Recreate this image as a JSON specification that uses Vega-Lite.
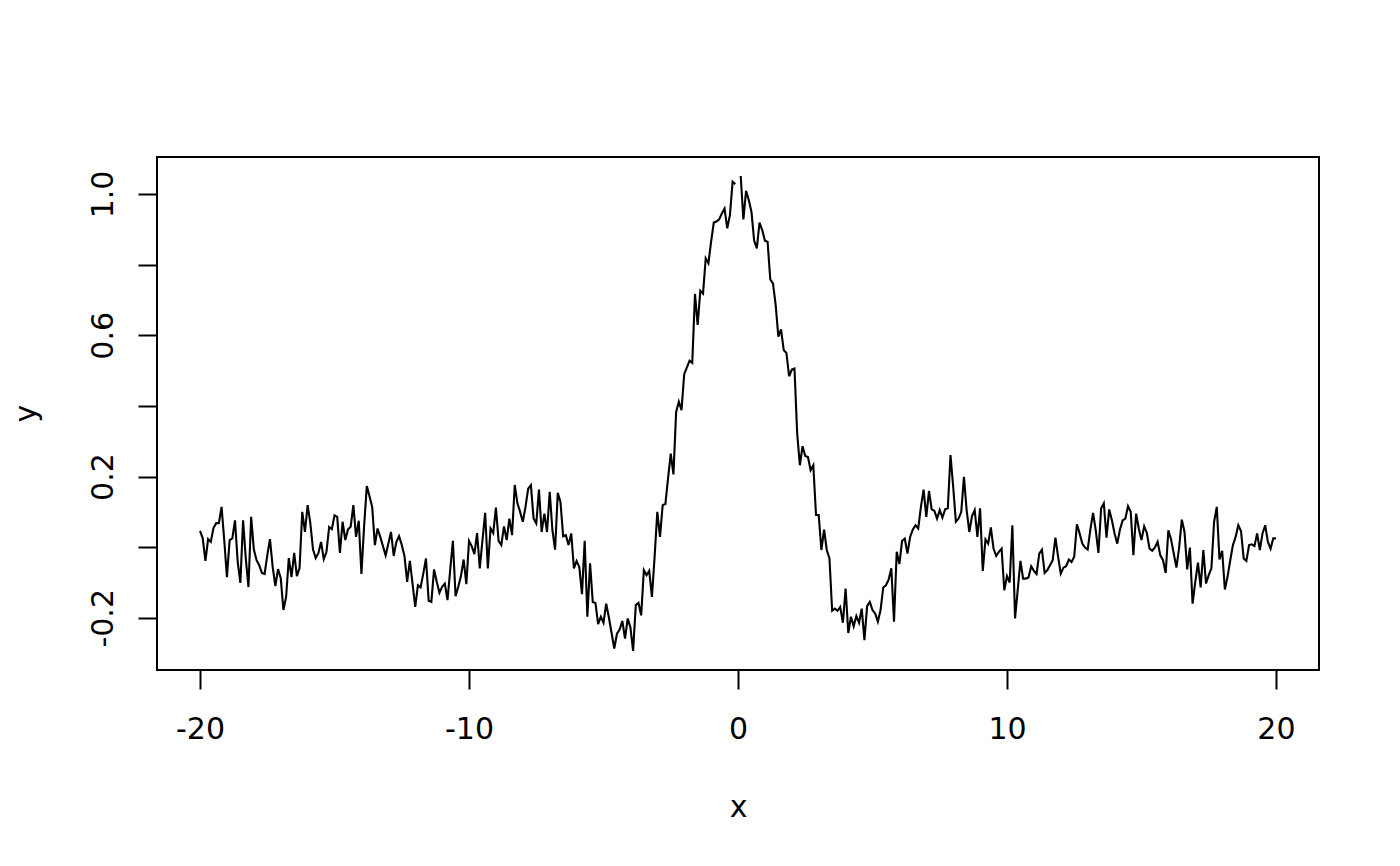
{
  "$schema": "https://vega.github.io/schema/vega-lite/v6.json",
  "autosize": "none",
  "width": 1162,
  "height": 513,
  "padding": {"left": 157, "top": 157, "right": 81, "bottom": 196},
  "background": "white",
  "config": {
    "view": {"stroke": "black", "strokeWidth": 2},
    "axis": {
      "domain": false,
      "grid": false,
      "tickColor": "black",
      "tickSize": 19,
      "tickWidth": 2,
      "labelFont": "DejaVu Sans",
      "labelFontSize": 30,
      "labelColor": "black",
      "titleFont": "DejaVu Sans",
      "titleFontSize": 30,
      "titleFontWeight": "normal",
      "titleColor": "black",
      "labelOverlap": false
    }
  },
  "data": {"values": [
    {"x": -20, "y": 0.046}, {"x": -19.9, "y": 0.025}, {"x": -19.8, "y": -0.039}, {"x": -19.7, "y": 0.023}, {"x": -19.6, "y": 0.015},
    {"x": -19.5, "y": 0.054}, {"x": -19.4, "y": 0.068}, {"x": -19.3, "y": 0.068}, {"x": -19.2, "y": 0.114}, {"x": -19.1, "y": 0.02},
    {"x": -19, "y": -0.085}, {"x": -18.9, "y": 0.02}, {"x": -18.8, "y": 0.025}, {"x": -18.7, "y": 0.076}, {"x": -18.6, "y": -0.042},
    {"x": -18.5, "y": -0.101}, {"x": -18.4, "y": 0.076}, {"x": -18.3, "y": -0.031}, {"x": -18.2, "y": -0.113}, {"x": -18.1, "y": 0.086},
    {"x": -18, "y": -0.006}, {"x": -17.9, "y": -0.037}, {"x": -17.8, "y": -0.051}, {"x": -17.7, "y": -0.073}, {"x": -17.6, "y": -0.076},
    {"x": -17.5, "y": -0.023}, {"x": -17.4, "y": 0.023}, {"x": -17.3, "y": -0.056}, {"x": -17.2, "y": -0.11}, {"x": -17.1, "y": -0.062},
    {"x": -17, "y": -0.088}, {"x": -16.9, "y": -0.178}, {"x": -16.8, "y": -0.141}, {"x": -16.7, "y": -0.031}, {"x": -16.6, "y": -0.085},
    {"x": -16.5, "y": -0.016}, {"x": -16.4, "y": -0.082}, {"x": -16.3, "y": -0.059}, {"x": -16.2, "y": 0.1}, {"x": -16.1, "y": 0.043},
    {"x": -16, "y": 0.119}, {"x": -15.9, "y": 0.068}, {"x": -15.8, "y": -0.006}, {"x": -15.7, "y": -0.031}, {"x": -15.6, "y": -0.017},
    {"x": -15.5, "y": 0.015}, {"x": -15.4, "y": -0.034}, {"x": -15.3, "y": -0.014}, {"x": -15.2, "y": 0.057}, {"x": -15.1, "y": 0.051},
    {"x": -15, "y": 0.09},
    {"x": -14.9, "y": 0.086}, {"x": -14.8, "y": -0.016}, {"x": -14.7, "y": 0.072}, {"x": -14.6, "y": 0.02}, {"x": -14.5, "y": 0.05},
    {"x": -14.4, "y": 0.058}, {"x": -14.3, "y": 0.119}, {"x": -14.2, "y": 0.029}, {"x": -14.1, "y": 0.075}, {"x": -14, "y": -0.076},
    {"x": -13.9, "y": 0.06}, {"x": -13.8, "y": 0.173}, {"x": -13.7, "y": 0.144}, {"x": -13.6, "y": 0.114}, {"x": -13.5, "y": 0.006},
    {"x": -13.4, "y": 0.053}, {"x": -13.3, "y": 0.029}, {"x": -13.2, "y": 0.003}, {"x": -13.1, "y": -0.023}, {"x": -13, "y": 0.01},
    {"x": -12.9, "y": 0.043}, {"x": -12.8, "y": -0.025}, {"x": -12.7, "y": 0.015}, {"x": -12.6, "y": 0.031}, {"x": -12.5, "y": 0.006},
    {"x": -12.4, "y": -0.025}, {"x": -12.3, "y": -0.098}, {"x": -12.2, "y": -0.039}, {"x": -12.1, "y": -0.103}, {"x": -12, "y": -0.169},
    {"x": -11.9, "y": -0.108}, {"x": -11.8, "y": -0.114}, {"x": -11.7, "y": -0.075}, {"x": -11.6, "y": -0.032}, {"x": -11.5, "y": -0.152},
    {"x": -11.4, "y": -0.155}, {"x": -11.3, "y": -0.063}, {"x": -11.2, "y": -0.098}, {"x": -11.1, "y": -0.129}, {"x": -11, "y": -0.112},
    {"x": -10.9, "y": -0.103}, {"x": -10.8, "y": -0.15}, {"x": -10.7, "y": -0.065}, {"x": -10.6, "y": 0.018}, {"x": -10.5, "y": -0.139},
    {"x": -10.4, "y": -0.112}, {"x": -10.3, "y": -0.082}, {"x": -10.2, "y": -0.035}, {"x": -10.1, "y": -0.105}, {"x": -10, "y": 0.018},
    {"x": -9.9, "y": 0.003}, {"x": -9.8, "y": -0.02}, {"x": -9.7, "y": 0.04}, {"x": -9.6, "y": -0.06}, {"x": -9.5, "y": 0.02},
    {"x": -9.4, "y": 0.097}, {"x": -9.3, "y": -0.06}, {"x": -9.2, "y": 0.053}, {"x": -9.1, "y": 0.04}, {"x": -9, "y": 0.112},
    {"x": -8.9, "y": 0.018}, {"x": -8.8, "y": 0.006}, {"x": -8.7, "y": 0.059}, {"x": -8.6, "y": 0.02}, {"x": -8.5, "y": 0.081},
    {"x": -8.4, "y": 0.034}, {"x": -8.3, "y": 0.176}, {"x": -8.2, "y": 0.124}, {"x": -8.1, "y": 0.1}, {"x": -8, "y": 0.072},
    {"x": -7.9, "y": 0.114}, {"x": -7.8, "y": 0.166}, {"x": -7.7, "y": 0.176}, {"x": -7.6, "y": 0.081}, {"x": -7.5, "y": 0.067},
    {"x": -7.4, "y": 0.163}, {"x": -7.3, "y": 0.043}, {"x": -7.2, "y": 0.095}, {"x": -7.1, "y": 0.043}, {"x": -7, "y": 0.157},
    {"x": -6.9, "y": 0.048}, {"x": -6.8, "y": -0.007}, {"x": -6.7, "y": 0.154}, {"x": -6.6, "y": 0.128}, {"x": -6.5, "y": 0.031},
    {"x": -6.4, "y": 0.034}, {"x": -6.3, "y": 0.006}, {"x": -6.2, "y": 0.039}, {"x": -6.1, "y": -0.06}, {"x": -6, "y": -0.039},
    {"x": -5.9, "y": -0.056}, {"x": -5.8, "y": -0.133}, {"x": -5.7, "y": 0.018}, {"x": -5.6, "y": -0.197}, {"x": -5.5, "y": -0.046},
    {"x": -5.4, "y": -0.155}, {"x": -5.3, "y": -0.158}, {"x": -5.2, "y": -0.218}, {"x": -5.1, "y": -0.197}, {"x": -5, "y": -0.214},
    {"x": -4.9, "y": -0.16}, {"x": -4.8, "y": -0.199}, {"x": -4.7, "y": -0.243}, {"x": -4.6, "y": -0.287}, {"x": -4.5, "y": -0.245},
    {"x": -4.4, "y": -0.233}, {"x": -4.3, "y": -0.209}, {"x": -4.2, "y": -0.259}, {"x": -4.1, "y": -0.202}, {"x": -4, "y": -0.227},
    {"x": -3.9, "y": -0.294}, {"x": -3.8, "y": -0.164}, {"x": -3.7, "y": -0.158}, {"x": -3.6, "y": -0.193}, {"x": -3.5, "y": -0.065},
    {"x": -3.4, "y": -0.079}, {"x": -3.3, "y": -0.067}, {"x": -3.2, "y": -0.141}, {"x": -3.1, "y": -0.027}, {"x": -3, "y": 0.1},
    {"x": -2.9, "y": 0.029}, {"x": -2.8, "y": 0.119}, {"x": -2.7, "y": 0.122}, {"x": -2.6, "y": 0.195}, {"x": -2.5, "y": 0.265},
    {"x": -2.4, "y": 0.206}, {"x": -2.3, "y": 0.383}, {"x": -2.2, "y": 0.412}, {"x": -2.1, "y": 0.388}, {"x": -2, "y": 0.49},
    {"x": -1.9, "y": 0.509}, {"x": -1.8, "y": 0.528}, {"x": -1.7, "y": 0.522}, {"x": -1.6, "y": 0.717}, {"x": -1.5, "y": 0.629},
    {"x": -1.4, "y": 0.726}, {"x": -1.3, "y": 0.718}, {"x": -1.2, "y": 0.818}, {"x": -1.1, "y": 0.804}, {"x": -1, "y": 0.865},
    {"x": -0.9, "y": 0.919}, {"x": -0.8, "y": 0.922}, {"x": -0.7, "y": 0.928}, {"x": -0.6, "y": 0.945}, {"x": -0.5, "y": 0.959},
    {"x": -0.4, "y": 0.903}, {"x": -0.3, "y": 0.94}, {"x": -0.2, "y": 1.035}, {"x": -0.1, "y": 1.028}, {"x": 0, "y": null},
    {"x": 0.1, "y": 1.051}, {"x": 0.2, "y": 0.928}, {"x": 0.3, "y": 1.009}, {"x": 0.4, "y": 0.983}, {"x": 0.5, "y": 0.95},
    {"x": 0.6, "y": 0.868}, {"x": 0.7, "y": 0.846}, {"x": 0.8, "y": 0.919}, {"x": 0.9, "y": 0.898}, {"x": 1, "y": 0.868},
    {"x": 1.1, "y": 0.865}, {"x": 1.2, "y": 0.758}, {"x": 1.3, "y": 0.747}, {"x": 1.4, "y": 0.686}, {"x": 1.5, "y": 0.596},
    {"x": 1.6, "y": 0.617}, {"x": 1.7, "y": 0.558}, {"x": 1.8, "y": 0.55}, {"x": 1.9, "y": 0.484}, {"x": 2, "y": 0.503},
    {"x": 2.1, "y": 0.506}, {"x": 2.2, "y": 0.322}, {"x": 2.3, "y": 0.232}, {"x": 2.4, "y": 0.286}, {"x": 2.5, "y": 0.258},
    {"x": 2.6, "y": 0.255}, {"x": 2.7, "y": 0.218}, {"x": 2.8, "y": 0.232}, {"x": 2.9, "y": 0.091}, {"x": 3, "y": 0.091},
    {"x": 3.1, "y": -0.008}, {"x": 3.2, "y": 0.05}, {"x": 3.3, "y": -0.008}, {"x": 3.4, "y": -0.032}, {"x": 3.5, "y": -0.18},
    {"x": 3.6, "y": -0.174}, {"x": 3.7, "y": -0.18}, {"x": 3.8, "y": -0.169}, {"x": 3.9, "y": -0.214}, {"x": 4, "y": -0.117},
    {"x": 4.1, "y": -0.243}, {"x": 4.2, "y": -0.197}, {"x": 4.3, "y": -0.224}, {"x": 4.4, "y": -0.195}, {"x": 4.5, "y": -0.214},
    {"x": 4.6, "y": -0.174}, {"x": 4.7, "y": -0.263}, {"x": 4.8, "y": -0.167}, {"x": 4.9, "y": -0.155}, {"x": 5, "y": -0.178},
    {"x": 5.1, "y": -0.188}, {"x": 5.2, "y": -0.211}, {"x": 5.3, "y": -0.178}, {"x": 5.4, "y": -0.114}, {"x": 5.5, "y": -0.108},
    {"x": 5.6, "y": -0.092}, {"x": 5.7, "y": -0.06}, {"x": 5.8, "y": -0.211}, {"x": 5.9, "y": -0.013}, {"x": 6, "y": -0.048},
    {"x": 6.1, "y": 0.018}, {"x": 6.2, "y": 0.024}, {"x": 6.3, "y": -0.018}, {"x": 6.4, "y": 0.029}, {"x": 6.5, "y": 0.05},
    {"x": 6.6, "y": 0.062}, {"x": 6.7, "y": 0.053}, {"x": 6.8, "y": 0.114}, {"x": 6.9, "y": 0.163}, {"x": 7, "y": 0.086},
    {"x": 7.1, "y": 0.159}, {"x": 7.2, "y": 0.107}, {"x": 7.3, "y": 0.103}, {"x": 7.4, "y": 0.081}, {"x": 7.5, "y": 0.105},
    {"x": 7.6, "y": 0.084}, {"x": 7.7, "y": 0.107}, {"x": 7.8, "y": 0.11}, {"x": 7.9, "y": 0.261}, {"x": 8, "y": 0.171},
    {"x": 8.1, "y": 0.072}, {"x": 8.2, "y": 0.081}, {"x": 8.3, "y": 0.1}, {"x": 8.4, "y": 0.199}, {"x": 8.5, "y": 0.105},
    {"x": 8.6, "y": 0.043}, {"x": 8.7, "y": 0.088}, {"x": 8.8, "y": 0.105}, {"x": 8.9, "y": 0.029}, {"x": 9, "y": 0.11},
    {"x": 9.1, "y": -0.067}, {"x": 9.2, "y": 0.022}, {"x": 9.3, "y": 0.01}, {"x": 9.4, "y": 0.056}, {"x": 9.5, "y": -0.004},
    {"x": 9.6, "y": -0.025}, {"x": 9.7, "y": -0.013}, {"x": 9.8, "y": -0.004}, {"x": 9.9, "y": -0.122}, {"x": 10, "y": -0.082},
    {"x": 10.1, "y": -0.1}, {"x": 10.2, "y": 0.062}, {"x": 10.3, "y": -0.202}, {"x": 10.4, "y": -0.12}, {"x": 10.5, "y": -0.039},
    {"x": 10.6, "y": -0.089}, {"x": 10.7, "y": -0.089}, {"x": 10.8, "y": -0.086}, {"x": 10.9, "y": -0.054}, {"x": 11, "y": -0.067},
    {"x": 11.1, "y": -0.076}, {"x": 11.2, "y": -0.018}, {"x": 11.3, "y": -0.007}, {"x": 11.4, "y": -0.073}, {"x": 11.5, "y": -0.065},
    {"x": 11.6, "y": -0.051}, {"x": 11.7, "y": -0.037}, {"x": 11.8, "y": 0.027}, {"x": 11.9, "y": -0.027}, {"x": 12, "y": -0.075},
    {"x": 12.1, "y": -0.058}, {"x": 12.2, "y": -0.054}, {"x": 12.3, "y": -0.035}, {"x": 12.4, "y": -0.042}, {"x": 12.5, "y": -0.027},
    {"x": 12.6, "y": 0.065}, {"x": 12.7, "y": 0.039}, {"x": 12.8, "y": 0.01}, {"x": 12.9, "y": -0.001}, {"x": 13, "y": -0.007},
    {"x": 13.1, "y": 0.05}, {"x": 13.2, "y": 0.097}, {"x": 13.3, "y": 0.048}, {"x": 13.4, "y": -0.016}, {"x": 13.5, "y": 0.11},
    {"x": 13.6, "y": 0.124}, {"x": 13.7, "y": 0.027}, {"x": 13.8, "y": 0.107}, {"x": 13.9, "y": 0.076}, {"x": 14, "y": 0.039},
    {"x": 14.1, "y": 0.01}, {"x": 14.2, "y": 0.05}, {"x": 14.3, "y": 0.076}, {"x": 14.4, "y": 0.081}, {"x": 14.5, "y": 0.116},
    {"x": 14.6, "y": 0.1}, {"x": 14.7, "y": -0.023}, {"x": 14.8, "y": 0.095}, {"x": 14.9, "y": 0.053}, {"x": 15, "y": 0.02},
    {"x": 15.1, "y": 0.059}, {"x": 15.2, "y": 0.04}, {"x": 15.3, "y": -0.004}, {"x": 15.4, "y": -0.01}, {"x": 15.5, "y": -0.001},
    {"x": 15.6, "y": 0.015}, {"x": 15.7, "y": -0.023}, {"x": 15.8, "y": -0.037}, {"x": 15.9, "y": -0.073}, {"x": 16, "y": 0.048},
    {"x": 16.1, "y": 0.022}, {"x": 16.2, "y": -0.018}, {"x": 16.3, "y": -0.058}, {"x": 16.4, "y": -0.001}, {"x": 16.5, "y": 0.078},
    {"x": 16.6, "y": 0.043}, {"x": 16.7, "y": -0.063}, {"x": 16.8, "y": -0.001}, {"x": 16.9, "y": -0.16}, {"x": 17, "y": -0.098},
    {"x": 17.1, "y": -0.044}, {"x": 17.2, "y": -0.114}, {"x": 17.3, "y": -0.008}, {"x": 17.4, "y": -0.103}, {"x": 17.5, "y": -0.079},
    {"x": 17.6, "y": -0.06}, {"x": 17.7, "y": 0.072}, {"x": 17.8, "y": 0.114}, {"x": 17.9, "y": -0.035}, {"x": 18, "y": -0.01},
    {"x": 18.1, "y": -0.12}, {"x": 18.2, "y": -0.084}, {"x": 18.3, "y": -0.037}, {"x": 18.4, "y": 0.006}, {"x": 18.5, "y": 0.029},
    {"x": 18.6, "y": 0.062}, {"x": 18.7, "y": 0.046}, {"x": 18.8, "y": -0.032}, {"x": 18.9, "y": -0.039}, {"x": 19, "y": 0.006},
    {"x": 19.1, "y": 0.008}, {"x": 19.2, "y": 0.003}, {"x": 19.3, "y": 0.039}, {"x": 19.4, "y": -0.008}, {"x": 19.5, "y": 0.039},
    {"x": 19.6, "y": 0.062}, {"x": 19.7, "y": 0.015}, {"x": 19.8, "y": -0.004}, {"x": 19.9, "y": 0.025}, {"x": 20, "y": 0.025}
  ]},
  "mark": {"type": "line", "color": "black", "strokeWidth": 2.1, "invalid": "break-paths-filter-domains"},
  "encoding": {
    "x": {
      "field": "x", "type": "quantitative",
      "scale": {"domain": [-21.6, 21.6], "nice": false, "zero": false},
      "axis": {
        "values": [-20, -10, 0, 10, 20],
        "labelExpr": "datum.value < 0 ? '-' + abs(datum.value) : '' + datum.value",
        "labelBaseline": "alphabetic",
        "labelPadding": 49,
        "title": "x",
        "titleBaseline": "alphabetic",
        "titleX": 581,
        "titleY": 146,
        "titleAnchor": "middle",
        "titleAlign": "center"
      }
    },
    "y": {
      "field": "y", "type": "quantitative",
      "scale": {"domain": [-0.3478, 1.1048], "nice": false, "zero": false},
      "axis": {
        "values": [-0.2, 0, 0.2, 0.4, 0.6, 0.8, 1.0],
        "labelExpr": "abs(datum.value - 1) < 0.01 ? '1.0' : abs(datum.value - 0.6) < 0.01 ? '0.6' : abs(datum.value - 0.2) < 0.01 ? '0.2' : abs(datum.value + 0.2) < 0.01 ? '-0.2' : ''",
        "labelAngle": 270,
        "labelAlign": "center",
        "labelBaseline": "alphabetic",
        "labelPadding": 26,
        "title": "y",
        "titleAngle": 270,
        "titleBaseline": "alphabetic",
        "titleAlign": "center",
        "titleX": -122,
        "titleY": 256
      }
    }
  }
}
